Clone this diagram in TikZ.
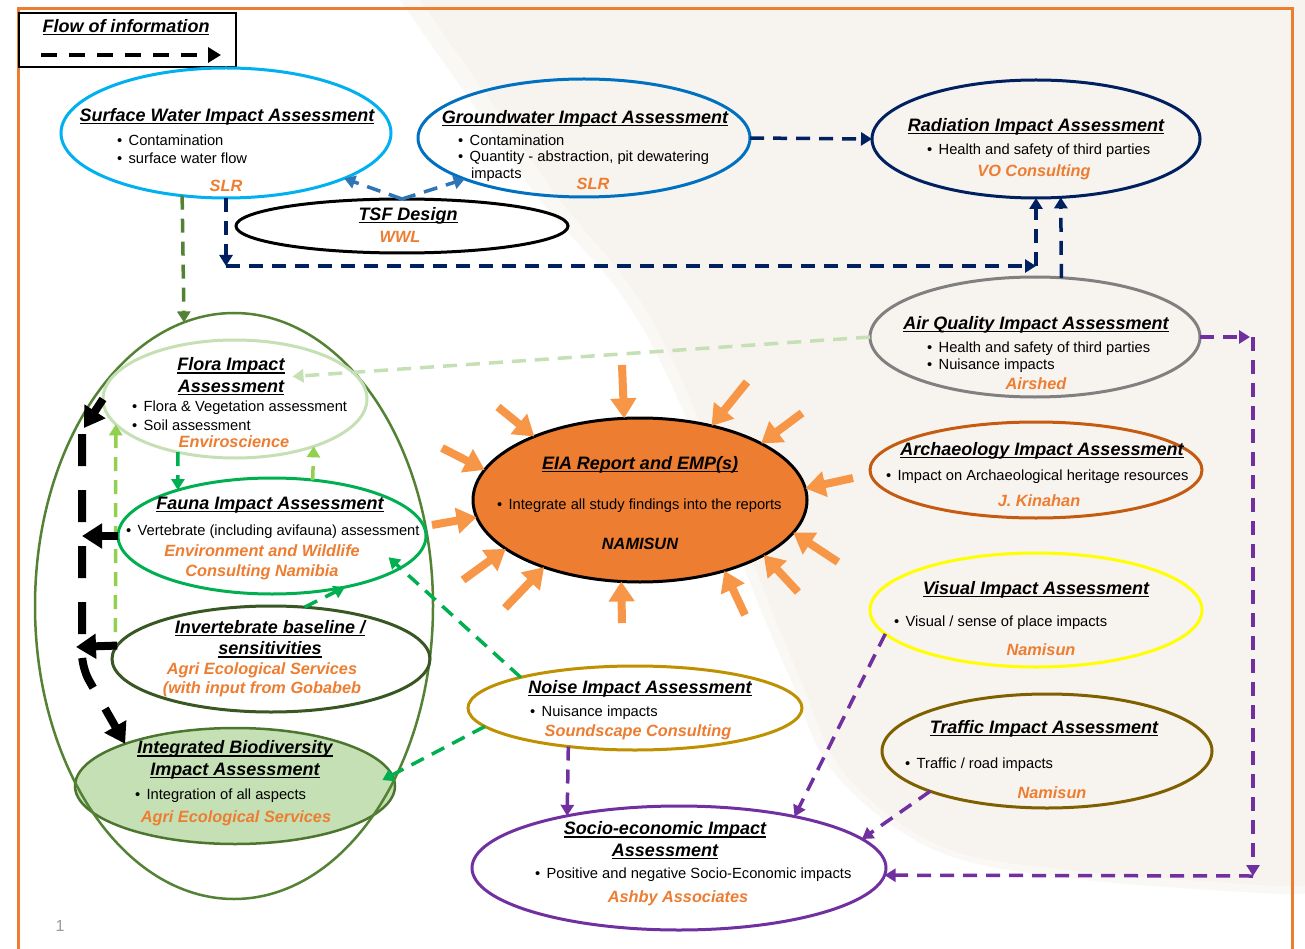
\documentclass[tikz,border=0pt]{standalone}
\usepackage{fontspec}
\setmainfont{Liberation Sans}
\usetikzlibrary{shapes.geometric,arrows.meta,calc}
\newsavebox\ulbox
\newcommand\ulx[1]{\sbox\ulbox{#1}\rlap{\usebox\ulbox}\rule[-2.8pt]{\wd\ulbox}{1.3pt}}
\definecolor{frameO}{HTML}{ED7D31}
\definecolor{cot}{HTML}{ED7D31}
\definecolor{beige}{HTML}{F7F3EF}
\definecolor{swc}{HTML}{00B0F0}
\definecolor{gwc}{HTML}{0070C0}
\definecolor{tsfc}{HTML}{2E75B6}
\definecolor{navy}{HTML}{002060}
\definecolor{aqc}{HTML}{808080}
\definecolor{florac}{HTML}{C5E0B4}
\definecolor{fauc}{HTML}{00B050}
\definecolor{invc}{HTML}{385723}
\definecolor{olivec}{HTML}{548235}
\definecolor{ibfill}{HTML}{C5E0B4}
\definecolor{lgreen}{HTML}{92D050}
\definecolor{eiac}{HTML}{ED7D31}
\definecolor{oarrc}{HTML}{F79646}
\definecolor{archc}{HTML}{C55A11}
\definecolor{visc}{HTML}{FFFF00}
\definecolor{trafc}{HTML}{7F6000}
\definecolor{noisec}{HTML}{BF9000}
\definecolor{purp}{HTML}{7030A0}
\begin{document}
\begin{tikzpicture}[x=1pt,y=-1pt,
  ell/.style={ellipse, inner sep=0pt, outer sep=0pt, line width=3pt},
  t/.style={inner sep=0pt, outer sep=0pt},
  tf/.style={t, font=\fontsize{18}{21.5}\selectfont\bfseries\itshape, align=center},
  bf/.style={t, font=\fontsize{14.7}{17}\selectfont, anchor=west},
  cf/.style={t, font=\fontsize{16.3}{19.5}\selectfont\bfseries\itshape, text=cot, align=center},
  con/.style={line width=3.5pt, dash pattern=on 14pt off 9pt, -{Triangle[length=11pt,width=13pt]}},
  legarr/.style={line width=4.5pt, dash pattern=on 16pt off 12pt, -{Triangle[length=13pt,width=15pt]}},
  blk/.style={line width=8pt, -{Triangle[length=20pt,width=24pt]}},
  blkdash/.style={line width=8pt, dash pattern=on 32pt off 24pt, rounded corners=14pt, -{Triangle[length=20pt,width=24pt]}},
  oarr/.style={color=oarrc, line width=8pt, -{Triangle[length=20pt,width=25pt]}}
]
\useasboundingbox (0,0) rectangle (1305,949);
% background
\fill[white] (0,0) rectangle (1305,949);
\fill[beige!60] plot[smooth, tension=0.6] coordinates {(400,0) (470,100) (540,200) (625,300) (685,415) (750,583) (790,678) (835,774) (935,850) (1069,878) (1261,893) (1305,893)} -- (1305,0) -- cycle;
\fill[beige] plot[smooth, tension=0.6] coordinates {(420,0) (490,100) (560,200) (640,300) (697,415) (761,583) (800,678) (845,774) (941,846) (1069,870) (1261,885) (1305,885)} -- (1305,0) -- cycle;
\draw[frameO, line width=3pt] (18,980) -- (18,9) -- (1292,9) -- (1292,980);

% legend
\node[draw, line width=1.5pt, minimum width=217, minimum height=54, inner sep=0pt, outer sep=0pt] (legend) at (127.5,40) {};
\node[tf] (legT) at (126,27) {\ulx{Flow of information}};
\coordinate (lg1) at (41,55);
\coordinate (lg2) at (221,55);
\draw[legarr] (lg1) -- (lg2);

% ellipses
\node[ell, draw=swc, minimum width=330, minimum height=130] (sw) at (226,133) {};
\node[ell, draw=gwc, minimum width=332, minimum height=118] (gw) at (584,138) {};
\node[ell, draw=black, minimum width=332, minimum height=54] (tsf) at (402,226) {};
\node[ell, draw=navy, minimum width=328, minimum height=118] (rad) at (1036,139) {};
\node[ell, draw=aqc, minimum width=330, minimum height=120] (aq) at (1035,337) {};
\node[ell, draw=olivec!90!black, fill=ibfill, line width=2.5pt, minimum width=320, minimum height=116] (ib) at (235,786) {};
\node[ell, draw=olivec, line width=2.5pt, minimum width=398, minimum height=586] (bio) at (234,606) {};
\node[ell, draw=florac, minimum width=264, minimum height=118] (flora) at (235,399) {};
\node[ell, draw=fauc, minimum width=308, minimum height=116] (fauna) at (272,536) {};
\node[ell, draw=invc, minimum width=318, minimum height=106] (inv) at (271,659) {};
\node[ell, draw=black, fill=eiac, minimum width=334, minimum height=164] (eia) at (640,500) {};
\node[ell, draw=archc, minimum width=332, minimum height=96] (arch) at (1036,470) {};
\node[ell, draw=visc, minimum width=332, minimum height=114] (vis) at (1036,610) {};
\node[ell, draw=trafc, minimum width=330, minimum height=114] (traf) at (1047,751) {};
\node[ell, draw=noisec, minimum width=334, minimum height=84] (noise) at (635,708) {};
\node[ell, draw=purp, minimum width=414, minimum height=124] (socio) at (679,868) {};

% texts
\node[tf] (swT) at (227,117) {\ulx{Surface Water Impact Assessment}};
\node[bf] (swB1) at (117,140) {•\hspace{6.5pt}Contamination};
\node[bf] (swB2) at (117,158) {•\hspace{6.5pt}surface water flow};
\node[cf] (swC) at (226,186) {SLR};

\node[tf] (gwT) at (585,119) {\ulx{Groundwater Impact Assessment}};
\node[bf] (gwB1) at (458,140) {•\hspace{6.5pt}Contamination};
\node[bf] (gwB2) at (458,158) {•\hspace{6.5pt}Quantity - abstraction, pit dewatering};
\node[bf] (gwB3) at (471,175) {impacts};
\node[cf] (gwC) at (593,184) {SLR};

\node[tf] (tsfT) at (408,216) {\ulx{TSF Design}};
\node[cf] (tsfC) at (400,237) {WWL};

\node[tf] (radT) at (1036,127) {\ulx{Radiation Impact Assessment}};
\node[bf] (radB) at (927,151) {•\hspace{6.5pt}Health and safety of third parties};
\node[cf] (radC) at (1034,172) {VO Consulting};

\node[tf] (aqT) at (1036,325) {\ulx{Air Quality Impact Assessment}};
\node[bf] (aqB1) at (927,349) {•\hspace{6.5pt}Health and safety of third parties};
\node[bf] (aqB2) at (927,366) {•\hspace{6.5pt}Nuisance impacts};
\node[cf] (aqC) at (1036,384) {Airshed};

\node[tf] (floraT) at (231,376.5) {\ulx{Flora Impact}\\\ulx{Assessment}};
\node[bf] (floraB1) at (132,408) {•\hspace{6.5pt}Flora \& Vegetation assessment};
\node[bf] (floraB2) at (132,425) {•\hspace{6.5pt}Soil assessment};
\node[cf] (floraC) at (234,442) {Enviroscience};

\node[tf] (faunaT) at (270,505) {\ulx{Fauna Impact Assessment}};
\node[bf] (faunaB) at (126,532) {•\hspace{6.5pt}Vertebrate (including avifauna) assessment};
\node[cf] (faunaC) at (262,562.5) {Environment and Wildlife\\Consulting Namibia};

\node[tf] (invT) at (270,639) {\ulx{Invertebrate baseline /}\\\ulx{sensitivities}};
\node[cf] (invC) at (262,680) {Agri Ecological Services\\(with input from Gobabeb};

\node[tf] (ibT) at (235,760) {\ulx{Integrated Biodiversity}\\\ulx{Impact Assessment}};
\node[bf] (ibB) at (135,796) {•\hspace{6.5pt}Integration of all aspects};
\node[cf] (ibC) at (236,818) {Agri Ecological Services};

\node[tf] (eiaT) at (640,465) {\ulx{EIA Report and EMP(s)}};
\node[bf] (eiaB) at (497,506) {•\hspace{6.5pt}Integrate all study findings into the reports};
\node[cf, text=black] (eiaC) at (640,544) {NAMISUN};

\node[tf] (archT) at (1042,451) {\ulx{Archaeology Impact Assessment}};
\node[bf] (archB) at (886,477) {•\hspace{6.5pt}Impact on Archaeological heritage resources};
\node[cf] (archC) at (1039,501) {J. Kinahan};

\node[tf] (visT) at (1036,590) {\ulx{Visual Impact Assessment}};
\node[bf] (visB) at (894,623) {•\hspace{6.5pt}Visual / sense of place impacts};
\node[cf] (visC) at (1041,650) {Namisun};

\node[tf] (trafT) at (1044,729) {\ulx{Traffic Impact Assessment}};
\node[bf] (trafB) at (905,765) {•\hspace{6.5pt}Traffic / road impacts};
\node[cf] (trafC) at (1052,793) {Namisun};

\node[tf] (noiseT) at (640,689) {\ulx{Noise Impact Assessment}};
\node[bf] (noiseB) at (530,713) {•\hspace{6.5pt}Nuisance impacts};
\node[cf] (noiseC) at (638,732) {Soundscape Consulting};

\node[tf] (socioT) at (665,840.5) {\ulx{Socio-economic Impact}\\\ulx{Assessment}};
\node[bf] (socioB) at (535,875) {•\hspace{6.5pt}Positive and negative Socio-Economic impacts};
\node[cf] (socioC) at (678,898) {Ashby Associates};

\node[t, font=\fontsize{16}{18}\selectfont, text=black!40] (pg) at (60,926) {1};

% connectors
\draw[con, color=tsfc] (tsf.north) -- (sw.-21.5);
\draw[con, color=tsfc] (tsf.north) -- (gw.199.4);

\coordinate (n1) at (226,266);
\coordinate (n2) at (1036,266);
\draw[con, color=navy] (sw.south) -- (n1);
\draw[con, color=navy] (n1) -- (n2);
\draw[con, color=navy] (n2) -- (rad.south);
\draw[con, color=navy] (aq.66.6) -- (rad.-67);
\draw[con, color=navy] (gw.east) -- (rad.west);

\draw[con, color=florac] (aq.west) -- ([xshift=8pt]floraT.east);

\coordinate (p1) at (1253,337);
\coordinate (p2) at (1253,876);
\draw[con, color=purp] (aq.east) -- ([xshift=-3pt]p1);
\draw[con, color=purp] (p1) -- (p2);
\draw[con, color=purp] (p2) -- (socio.-2.5);
\draw[con, color=purp] (vis.189.3) -- (socio.24);
\draw[con, color=purp] (traf.199.3) -- (socio.9.1);
\draw[con, color=purp] (noise.-150.6) -- (socio.155);

\draw[con, color=fauc, shorten >=-11pt] (noise.187.3) -- (ib.4.04);
\draw[con, color=fauc, shorten >=-16pt] (noise.165.2) -- (fauna.-14.15);

\draw[con, color=olivec] (sw.-125.1) -- (bio.100.4);
\draw[con, color=fauc] (flora.-137) -- (fauna.154);
\draw[con, color=lgreen] (fauna.54.5) -- (flora.-31.9);
\draw[con, color=lgreen, shorten <=16pt] (inv.176.3) -- (flora.-168.4);
\draw[con, color=fauc] (inv.57.6) -- (fauna.-35);

% black arrows
\coordinate (k1) at (84,428);
\coordinate (k2) at (82,536);
\coordinate (k3) at (76,647);
\coordinate (k4) at (82,434);
\coordinate (k5) at (82,668);
\draw[blk] (flora.west) -- (k1);
\draw[blk] (fauna.west) -- (k2);
\draw[blk] (inv.175.6) -- (k3);
\draw[blkdash] (k4) -- (k5) -- (ib.159.3);

% orange arrows into EIA
\foreach \i/\a/\x/\y in {1/101.96/622/365, 2/149.4/498/407, 3/169.95/442/448, 4/186.2/432/525,
  5/200.05/463/580, 6/215/505/608, 7/257.6/622/623, 8/-40.8/745/615, 9/-24/798/592,
  10/-12.2/838/562, 11/4.45/853/478, 12/25.2/802/413, 13/46.2/747/382}{
  \coordinate (ot\i) at (\x,\y);
  \draw[oarr] (ot\i) -- (eia.\a);
}
\end{tikzpicture}
\end{document}
